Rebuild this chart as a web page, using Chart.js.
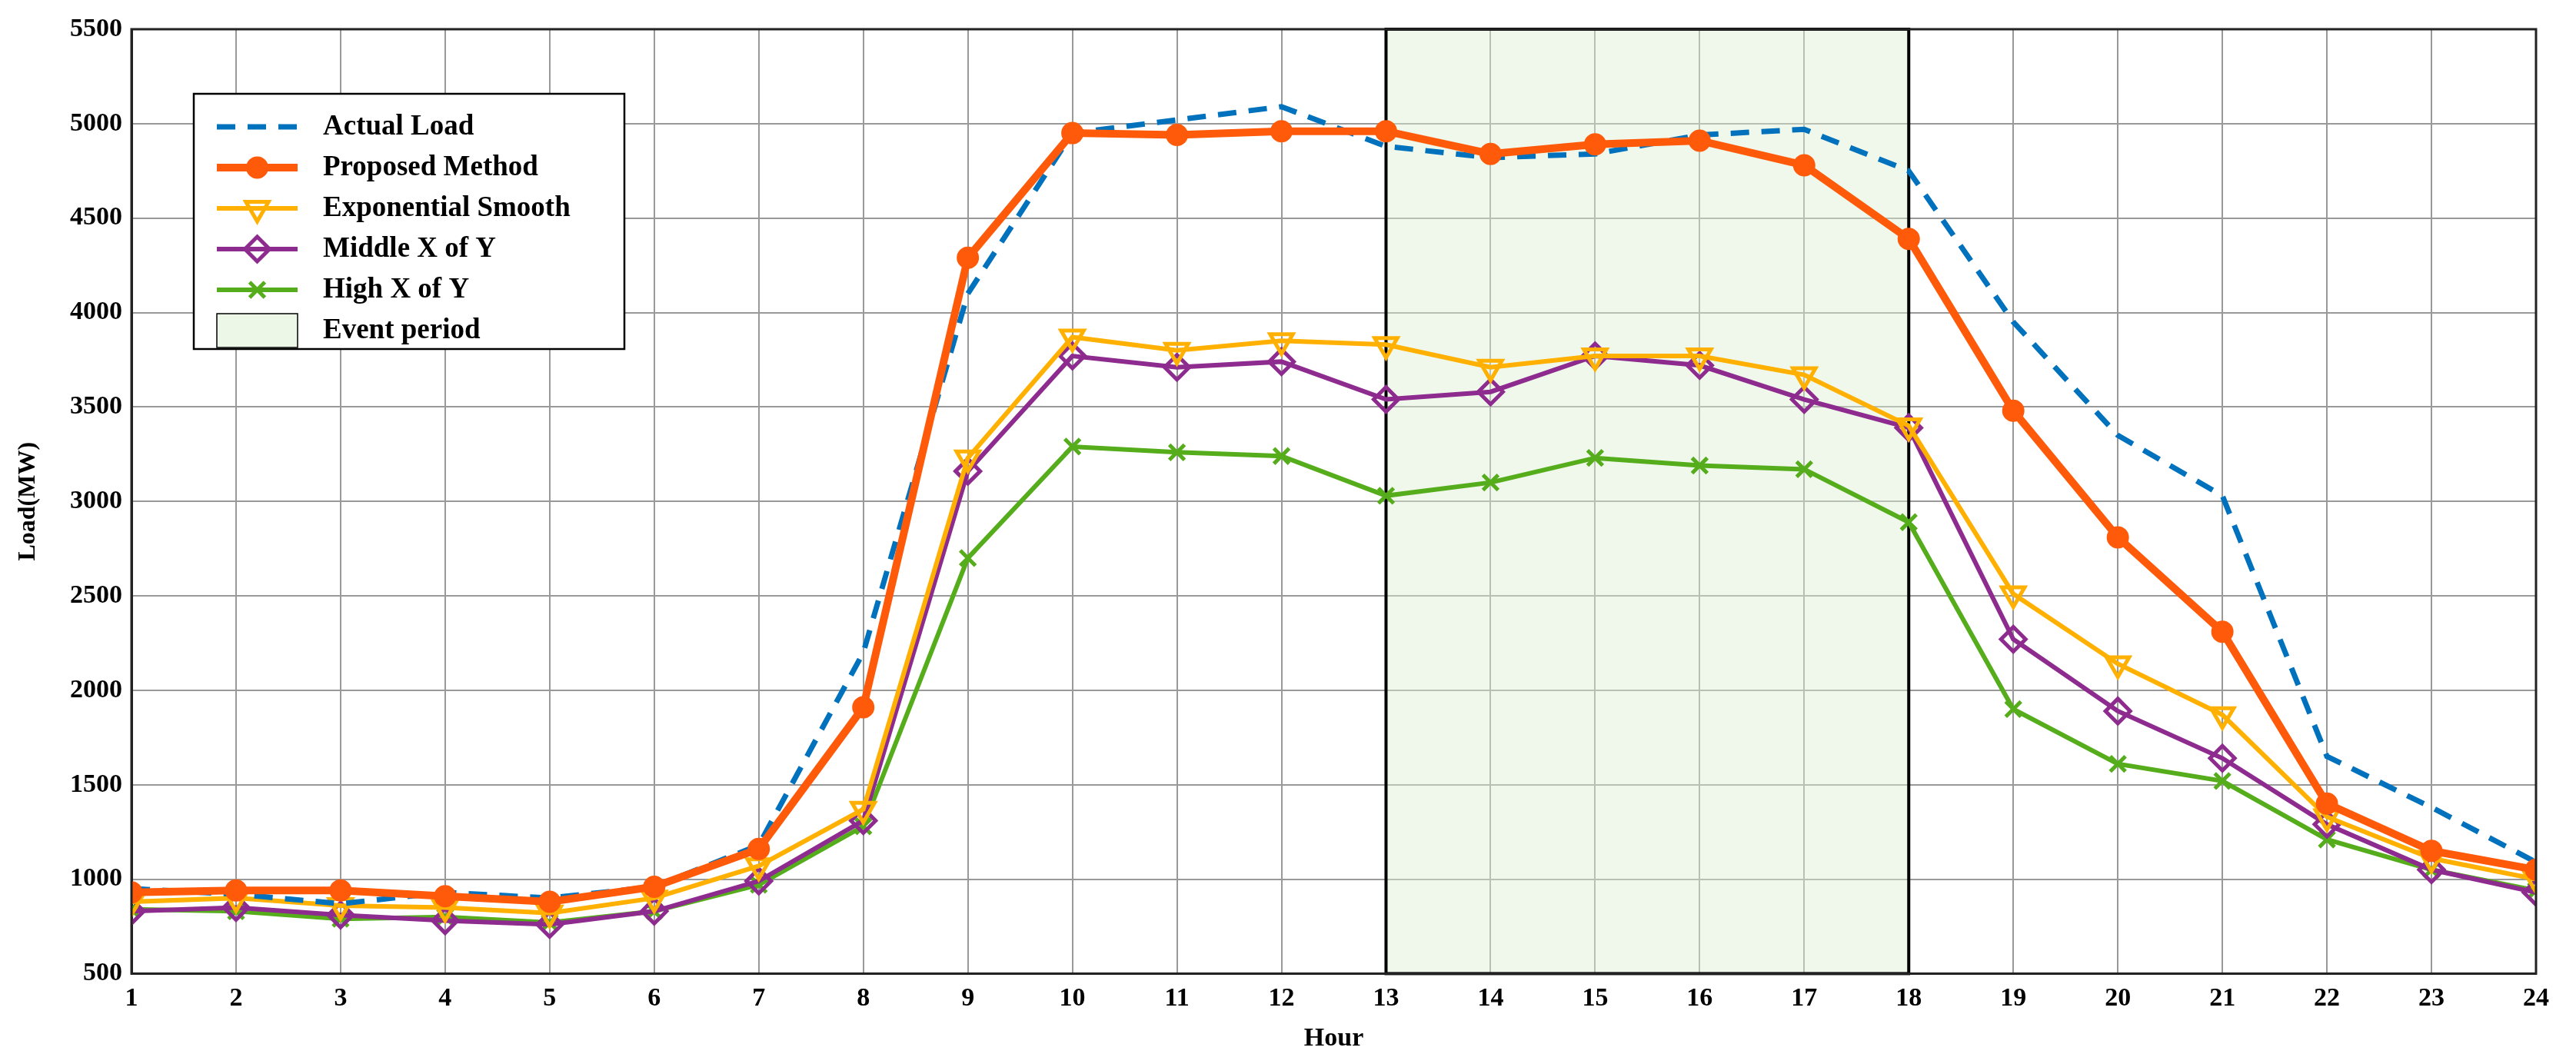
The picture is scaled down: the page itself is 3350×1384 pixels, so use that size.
<!DOCTYPE html>
<html>
<head>
<meta charset="utf-8">
<script src="https://cdn.jsdelivr.net/npm/chart.js@4/dist/chart.umd.min.js"></script>
<style>
  html, body { margin: 0; padding: 0; background: #fff; }
  #wrap { width: 3350px; height: 1384px; }
</style>
</head>
<body>
<div id="wrap"><canvas id="c"></canvas></div>
<script>
// hours 1..24
const hours = Array.from({length: 24}, (_, i) => i + 1);

const actualLoad  = [950, 920, 870, 930, 900, 960, 1180, 2200, 4100, 4950, 5020, 5090, 4880, 4820, 4840, 4940, 4970, 4750, 3950, 3350, 3030, 1650, 1380, 1090];
const proposed    = [930, 940, 940, 910, 880, 960, 1160, 1910, 4290, 4950, 4940, 4960, 4960, 4840, 4890, 4910, 4780, 4390, 3480, 2810, 2310, 1400, 1150, 1050];
const expSmooth   = [880, 900, 860, 850, 820, 900, 1070, 1370, 3230, 3870, 3800, 3850, 3830, 3710, 3770, 3770, 3670, 3400, 2510, 2140, 1870, 1330, 1110, 1000];
const middleXofY  = [830, 850, 810, 780, 760, 830, 990, 1310, 3160, 3770, 3710, 3740, 3540, 3580, 3770, 3720, 3540, 3390, 2270, 1890, 1640, 1290, 1050, 930];
const highXofY    = [840, 830, 790, 800, 770, 830, 970, 1280, 2700, 3290, 3260, 3240, 3030, 3100, 3230, 3190, 3170, 2890, 1900, 1610, 1520, 1210, 1050, 940];

const eventPeriod = [13, 18];

const FONT = '"Liberation Serif", "DejaVu Serif", serif';

const pts = arr => arr.map((v, i) => ({x: hours[i], y: v}));

const datasets = [
  { label: 'Actual Load', data: pts(actualLoad), borderColor: '#0072bd', borderWidth: 7,
    borderDash: [24, 16], pointRadius: 0, order: 1 },
  { label: 'Proposed Method', data: pts(proposed), borderColor: '#ff5a0a', backgroundColor: '#ff5a0a',
    borderWidth: 10, pointStyle: 'circle', pointRadius: 13, pointBorderWidth: 3, order: 0 },
  { label: 'Exponential Smooth', data: pts(expSmooth), borderColor: '#ffb000', backgroundColor: 'rgba(0,0,0,0)',
    borderWidth: 6, pointStyle: 'triangle', rotation: 180, pointRadius: 17, pointBorderWidth: 5, order: 2 },
  { label: 'Middle X of Y', data: pts(middleXofY), borderColor: '#8e2b8e', backgroundColor: 'rgba(0,0,0,0)',
    borderWidth: 6, pointStyle: 'rectRot', pointRadius: 16, pointBorderWidth: 5, order: 3 },
  { label: 'High X of Y', data: pts(highXofY), borderColor: '#56ad1c', backgroundColor: '#56ad1c',
    borderWidth: 6, pointStyle: 'crossRot', pointRadius: 14, pointBorderWidth: 5, order: 4 }
];

const eventBox = {
  id: 'eventBox',
  beforeDatasetsDraw(chart) {
    const {ctx, scales: {x, y}} = chart;
    const x0 = x.getPixelForValue(eventPeriod[0]), x1 = x.getPixelForValue(eventPeriod[1]);
    const y0 = y.getPixelForValue(5500), y1 = y.getPixelForValue(500);
    ctx.save();
    ctx.fillStyle = 'rgba(220,240,210,0.45)';
    ctx.fillRect(x0, y0, x1 - x0, y1 - y0);
    ctx.strokeStyle = '#000'; ctx.lineWidth = 4;
    ctx.strokeRect(x0, y0, x1 - x0, y1 - y0);
    ctx.restore();
  }
};

const frame = {
  id: 'frame',
  afterDraw(chart) {
    const {ctx, chartArea: a} = chart;
    ctx.save();
    ctx.strokeStyle = '#222'; ctx.lineWidth = 3;
    ctx.strokeRect(a.left, a.top, a.right - a.left, a.bottom - a.top);
    // legend box
    const lx = 252, ly = 122, lw = 560, lh = 332;
    ctx.fillStyle = '#fff'; ctx.fillRect(lx, ly, lw, lh);
    ctx.strokeStyle = '#000'; ctx.lineWidth = 2.5; ctx.strokeRect(lx, ly, lw, lh);
    ctx.font = 'bold 37px ' + FONT; ctx.textBaseline = 'middle';
    const rowH = 53, x0 = lx + 30, x1 = lx + 135;
    chart.data.datasets.forEach((ds, i) => {
      const cy = ly + 43 + i * rowH;
      ctx.save();
      ctx.strokeStyle = ds.borderColor; ctx.lineWidth = ds.borderWidth;
      ctx.setLineDash(ds.borderDash || []);
      ctx.beginPath(); ctx.moveTo(x0, cy); ctx.lineTo(x1, cy); ctx.stroke();
      ctx.restore();
      if (ds.pointRadius) {
        ctx.save();
        ctx.fillStyle = ds.backgroundColor; ctx.strokeStyle = ds.borderColor;
        ctx.lineWidth = ds.pointBorderWidth;
        Chart.helpers.drawPoint(ctx, {pointStyle: ds.pointStyle, rotation: ds.rotation || 0,
          radius: ds.pointRadius, borderWidth: ds.pointBorderWidth}, (x0 + x1) / 2, cy);
        ctx.restore();
      }
      ctx.fillStyle = '#000';
      ctx.fillText(ds.label, lx + 168, cy);
    });
    const cy = ly + 43 + 5 * rowH;
    ctx.fillStyle = 'rgba(220,240,210,0.5)'; ctx.fillRect(x0, cy - 22, x1 - x0, 44);
    ctx.strokeStyle = '#000'; ctx.lineWidth = 1.5; ctx.strokeRect(x0, cy - 22, x1 - x0, 44);
    ctx.fillStyle = '#000'; ctx.fillText('Event period', lx + 168, cy);
    ctx.restore();
  }
};

new Chart(document.getElementById('c'), {
  type: 'line',
  data: { datasets },
  options: {
    responsive: true, maintainAspectRatio: false, animation: false,
    layout: { padding: { left: 14, right: 52, top: 38, bottom: 8 } },
    plugins: { legend: { display: false }, tooltip: { enabled: false } },
    scales: {
      x: {
        type: 'linear', min: 1, max: 24,
        ticks: { stepSize: 1, color: '#000', font: { family: FONT, size: 34, weight: 'bold' }, padding: 12 },
        grid: { color: '#999', lineWidth: 2, tickLength: 0 },
        border: { color: '#222', width: 3 },
        title: { display: true, text: 'Hour', color: '#000', font: { family: FONT, size: 34, weight: 'bold' }, padding: { top: 0 } }
      },
      y: {
        min: 500, max: 5500,
        afterFit(s) { s.width = 157; },
        ticks: { stepSize: 500, color: '#000', font: { family: FONT, size: 34, weight: 'bold' }, padding: 12,
          callback: v => String(v) },
        grid: { color: '#999', lineWidth: 2, tickLength: 0 },
        border: { color: '#222', width: 3 },
        title: { display: true, text: 'Load(MW)', color: '#000', font: { family: FONT, size: 32, weight: 'bold' } }
      }
    }
  },
  plugins: [eventBox, frame]
});
</script>
</body>
</html>
